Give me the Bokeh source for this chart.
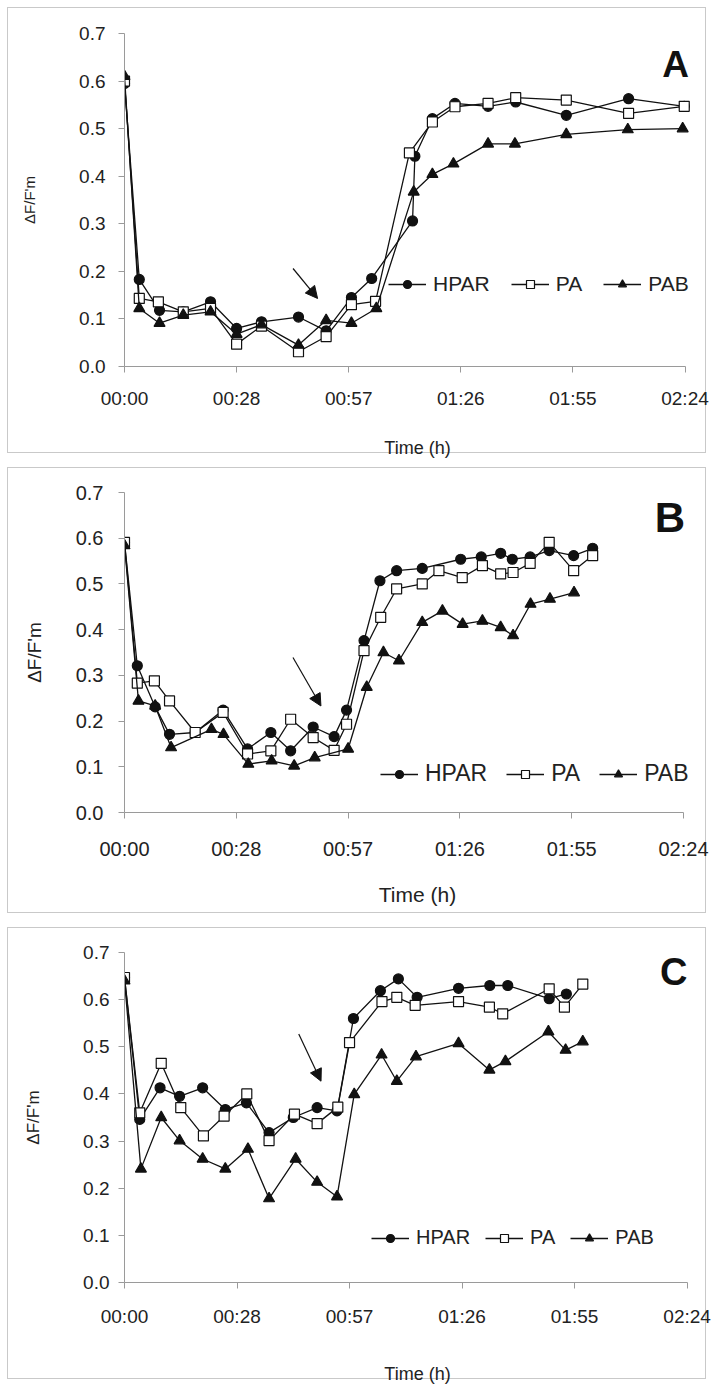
from bokeh.plotting import figure
from bokeh.layouts import column
from bokeh.models import (FixedTicker, NumeralTickFormatter, Legend, LegendItem,
                          Label, Arrow, NormalHead, Range1d)
from bokeh.embed import file_html
from bokeh.resources import INLINE

# ---------------- data ----------------
TIME_TICKS = [0, 28.8, 57.6, 86.4, 115.2, 144]
TIME_LABELS = ["00:00", "00:28", "00:57", "01:26", "01:55", "02:24"]
Y_TICKS = [0, 0.1, 0.2, 0.3, 0.4, 0.5, 0.6, 0.7]
SERIES = ["HPAR", "PA", "PAB"]
Y_TITLE = "ΔF/F'm"
X_TITLE = "Time (h)"

# Panel A (time in minutes)
A_HPAR_t = [0, 3.8, 9.0, 15.1, 22.1, 28.8, 35.2, 44.7, 51.8, 58.3, 63.5, 74.0, 74.6, 79.1, 84.9, 93.4, 100.5, 113.5, 129.5, 143.8]
A_HPAR_v = [0.595, 0.183, 0.118, 0.115, 0.136, 0.080, 0.094, 0.104, 0.075, 0.145, 0.185, 0.306, 0.442, 0.521, 0.553, 0.547, 0.556, 0.528, 0.563, 0.547]
A_PA_t = [0, 3.8, 8.7, 15.1, 22.1, 28.8, 35.2, 44.7, 51.8, 58.3, 64.5, 73.2, 79.1, 84.9, 93.4, 100.5, 113.5, 129.5, 143.8]
A_PA_v = [0.600, 0.143, 0.136, 0.115, 0.122, 0.047, 0.085, 0.031, 0.063, 0.130, 0.137, 0.449, 0.514, 0.546, 0.553, 0.565, 0.560, 0.532, 0.547]
A_PAB_t = [0, 3.8, 9.0, 15.1, 22.1, 28.8, 35.2, 44.7, 51.8, 58.3, 64.7, 74.3, 79.1, 84.5, 93.4, 100.3, 113.5, 129.3, 143.4]
A_PAB_v = [0.610, 0.122, 0.091, 0.108, 0.115, 0.068, 0.088, 0.045, 0.097, 0.091, 0.122, 0.367, 0.404, 0.426, 0.468, 0.468, 0.488, 0.498, 0.500]

# Panel B
B_HPAR_t = [0, 3.3, 7.9, 11.6, 18.2, 25.4, 31.7, 37.7, 42.8, 48.6, 54.0, 57.2, 61.7, 65.8, 70.1, 76.7, 86.6, 91.9, 96.9, 99.9, 104.5, 109.4, 115.7, 120.6]
B_HPAR_v = [0.591, 0.321, 0.231, 0.171, 0.175, 0.224, 0.139, 0.175, 0.135, 0.187, 0.166, 0.224, 0.376, 0.507, 0.529, 0.534, 0.554, 0.559, 0.567, 0.554, 0.559, 0.573, 0.562, 0.578]
B_PA_t = [0, 3.3, 7.7, 11.6, 18.2, 25.4, 31.7, 37.7, 42.8, 48.6, 54.0, 57.2, 61.7, 66.0, 70.1, 76.7, 81.0, 87.0, 92.2, 96.9, 100.1, 104.5, 109.4, 115.7, 120.6]
B_PA_v = [0.591, 0.283, 0.288, 0.244, 0.175, 0.219, 0.128, 0.135, 0.204, 0.164, 0.136, 0.193, 0.354, 0.427, 0.489, 0.500, 0.529, 0.514, 0.540, 0.522, 0.525, 0.545, 0.591, 0.529, 0.562]
B_PAB_t = [0, 3.6, 7.9, 12.0, 22.4, 25.5, 31.9, 37.9, 43.7, 49.0, 57.6, 62.4, 66.7, 70.7, 76.7, 81.9, 87.1, 92.2, 96.9, 100.1, 104.6, 109.6, 115.8]
B_PAB_v = [0.584, 0.244, 0.233, 0.142, 0.182, 0.171, 0.106, 0.113, 0.102, 0.120, 0.139, 0.274, 0.350, 0.332, 0.416, 0.441, 0.412, 0.419, 0.405, 0.387, 0.456, 0.467, 0.481]

# Panel C
C_HPAR_t = [0, 3.9, 9.1, 14.1, 20.0, 25.8, 31.2, 37.0, 43.2, 49.3, 54.4, 58.6, 65.5, 70.1, 74.9, 85.5, 93.5, 98.1, 108.7, 113.1]
C_HPAR_v = [0.647, 0.346, 0.413, 0.395, 0.413, 0.367, 0.381, 0.318, 0.350, 0.371, 0.364, 0.560, 0.619, 0.644, 0.605, 0.624, 0.630, 0.630, 0.602, 0.612]
C_PA_t = [0, 3.9, 9.4, 14.4, 20.2, 25.5, 31.3, 37.0, 43.5, 49.3, 54.6, 57.6, 65.9, 69.7, 74.4, 85.5, 93.4, 96.8, 108.7, 112.6, 117.3]
C_PA_v = [0.647, 0.360, 0.465, 0.371, 0.311, 0.353, 0.400, 0.301, 0.357, 0.337, 0.372, 0.509, 0.596, 0.605, 0.588, 0.596, 0.584, 0.570, 0.623, 0.584, 0.633]
C_PAB_t = [0, 4.2, 9.4, 14.1, 20.0, 25.8, 31.6, 37.0, 43.8, 49.3, 54.4, 58.8, 65.8, 69.7, 74.6, 85.5, 93.4, 97.5, 108.5, 112.9, 117.3]
C_PAB_v = [0.640, 0.241, 0.350, 0.301, 0.262, 0.241, 0.283, 0.178, 0.262, 0.213, 0.182, 0.399, 0.483, 0.427, 0.479, 0.507, 0.451, 0.469, 0.532, 0.493, 0.511]

# arrows marking the event: (t_start, v_start, t_end, v_end)
A_ARROW = [43.3, 0.206, 49.6, 0.143]
B_ARROW = [43.4, 0.339, 50.6, 0.233]
C_ARROW = [44.6, 0.527, 50.3, 0.427]

PANEL_LETTERS = ["A", "B", "C"]
T_MAX = 144

# ---------------- styling ----------------
FONT = "Liberation Sans"
INK = "#111111"
AXIS_GREY = "#9a9a9a"
FRAME_RIGHT = 710  # frame extends past 02:24 so legend / letter are not clipped

STYLES = [
    dict(height=460, left=112, axis_end=684, top=33, bottom=94,
         tick_font=19, ylab_font=15, xlab_font=18, leg_font=21,
         x_standoff=15, xlab_standoff=26, y_standoff=13, ylab_standoff=38,
         leg_loc=(264, 70), leg_spacing=21,
         letter_xy=(141.6, 0.634), letter_size=37),
    dict(height=460, left=124, axis_end=683, top=32, bottom=108,
         tick_font=20, ylab_font=19, xlab_font=21, leg_font=23,
         x_standoff=19, xlab_standoff=20, y_standoff=15, ylab_standoff=28,
         leg_loc=(256, 25), leg_spacing=19,
         letter_xy=(140.5, 0.645), letter_size=42),
    dict(height=466, left=109, axis_end=686, top=32, bottom=101,
         tick_font=19, ylab_font=17, xlab_font=18, leg_font=20,
         x_standoff=17, xlab_standoff=34, y_standoff=9, ylab_standoff=37,
         leg_loc=(247, 33), leg_spacing=15,
         letter_xy=(140.6, 0.658), letter_size=38),
]

MARKERS = {"HPAR": ("circle", INK, 10), "PA": ("square", "white", 10), "PAB": ("triangle", INK, 11)}


def make_panel(letter, data, arrow, st):
    x_end = T_MAX * (FRAME_RIGHT - st["left"]) / (st["axis_end"] - st["left"])
    p = figure(width=713, height=st["height"], output_backend="svg", toolbar_location=None,
               x_range=Range1d(0, x_end), y_range=Range1d(0, 0.7),
               min_border_left=st["left"], min_border_right=713 - FRAME_RIGHT,
               min_border_top=st["top"], min_border_bottom=st["bottom"])
    p.outline_line_color = None
    p.grid.visible = False
    p.background_fill_alpha = 0
    p.border_fill_alpha = 0
    p.styles = {"box-shadow": "inset 0 0 0 7px white, inset 0 0 0 8px #c9c9c9"}

    xa = p.xaxis[0]
    xa.ticker = FixedTicker(ticks=TIME_TICKS)
    xa.major_label_overrides = dict(zip(TIME_TICKS, TIME_LABELS))
    xa.bounds = (0, T_MAX)
    xa.axis_label = X_TITLE
    xa.major_label_standoff = st["x_standoff"]
    xa.axis_label_standoff = st["xlab_standoff"]
    xa.axis_label_text_font_size = f"{st['xlab_font']}px"

    ya = p.yaxis[0]
    ya.ticker = FixedTicker(ticks=Y_TICKS)
    ya.formatter = NumeralTickFormatter(format="0.0")
    ya.axis_label = Y_TITLE
    ya.major_label_standoff = st["y_standoff"]
    ya.axis_label_standoff = st["ylab_standoff"]
    ya.axis_label_text_font_size = f"{st['ylab_font']}px"

    for ax in (xa, ya):
        ax.axis_line_color = AXIS_GREY
        ax.major_tick_line_color = AXIS_GREY
        ax.minor_tick_line_color = None
        ax.major_tick_out = 6
        ax.major_tick_in = 0
        ax.major_label_text_font = FONT
        ax.major_label_text_font_size = f"{st['tick_font']}px"
        ax.major_label_text_color = "#222222"
        ax.axis_label_text_font = FONT
        ax.axis_label_text_font_style = "normal"
        ax.axis_label_text_color = "#222222"

    items = []
    for name in SERIES:
        t, v = data[name]
        marker, fill, size = MARKERS[name]
        ln = p.line(t, v, line_color=INK, line_width=1.3)
        sc = p.scatter(t, v, marker=marker, size=size, fill_color=fill,
                       line_color=INK, line_width=1.2)
        items.append(LegendItem(label=name, renderers=[ln, sc]))

    leg = Legend(items=items, orientation="horizontal", location=st["leg_loc"],
                 glyph_width=38, glyph_height=20, label_standoff=7,
                 spacing=st["leg_spacing"], padding=0, margin=0,
                 border_line_alpha=0, background_fill_alpha=0,
                 label_text_font=FONT, label_text_font_size=f"{st['leg_font']}px",
                 label_text_color="#222222", label_height=20)
    p.add_layout(leg)

    p.add_layout(Arrow(end=NormalHead(size=12, fill_color=INK, line_color=INK),
                       x_start=arrow[0], y_start=arrow[1], x_end=arrow[2], y_end=arrow[3],
                       line_color=INK, line_width=1.2))

    lx, ly = st["letter_xy"]
    p.add_layout(Label(x=lx, y=ly, text=letter, text_font=FONT, text_font_style="bold",
                       text_font_size=f"{st['letter_size']}px", text_color=INK,
                       text_align="center", text_baseline="middle"))
    return p


DATA = [
    {"HPAR": (A_HPAR_t, A_HPAR_v), "PA": (A_PA_t, A_PA_v), "PAB": (A_PAB_t, A_PAB_v)},
    {"HPAR": (B_HPAR_t, B_HPAR_v), "PA": (B_PA_t, B_PA_v), "PAB": (B_PAB_t, B_PAB_v)},
    {"HPAR": (C_HPAR_t, C_HPAR_v), "PA": (C_PA_t, C_PA_v), "PAB": (C_PAB_t, C_PAB_v)},
]
ARROWS = [A_ARROW, B_ARROW, C_ARROW]

panels = [make_panel(PANEL_LETTERS[i], DATA[i], ARROWS[i], STYLES[i]) for i in range(3)]
layout = column(*panels, spacing=0)

open("out.html", "w").write(file_html(layout, INLINE))
